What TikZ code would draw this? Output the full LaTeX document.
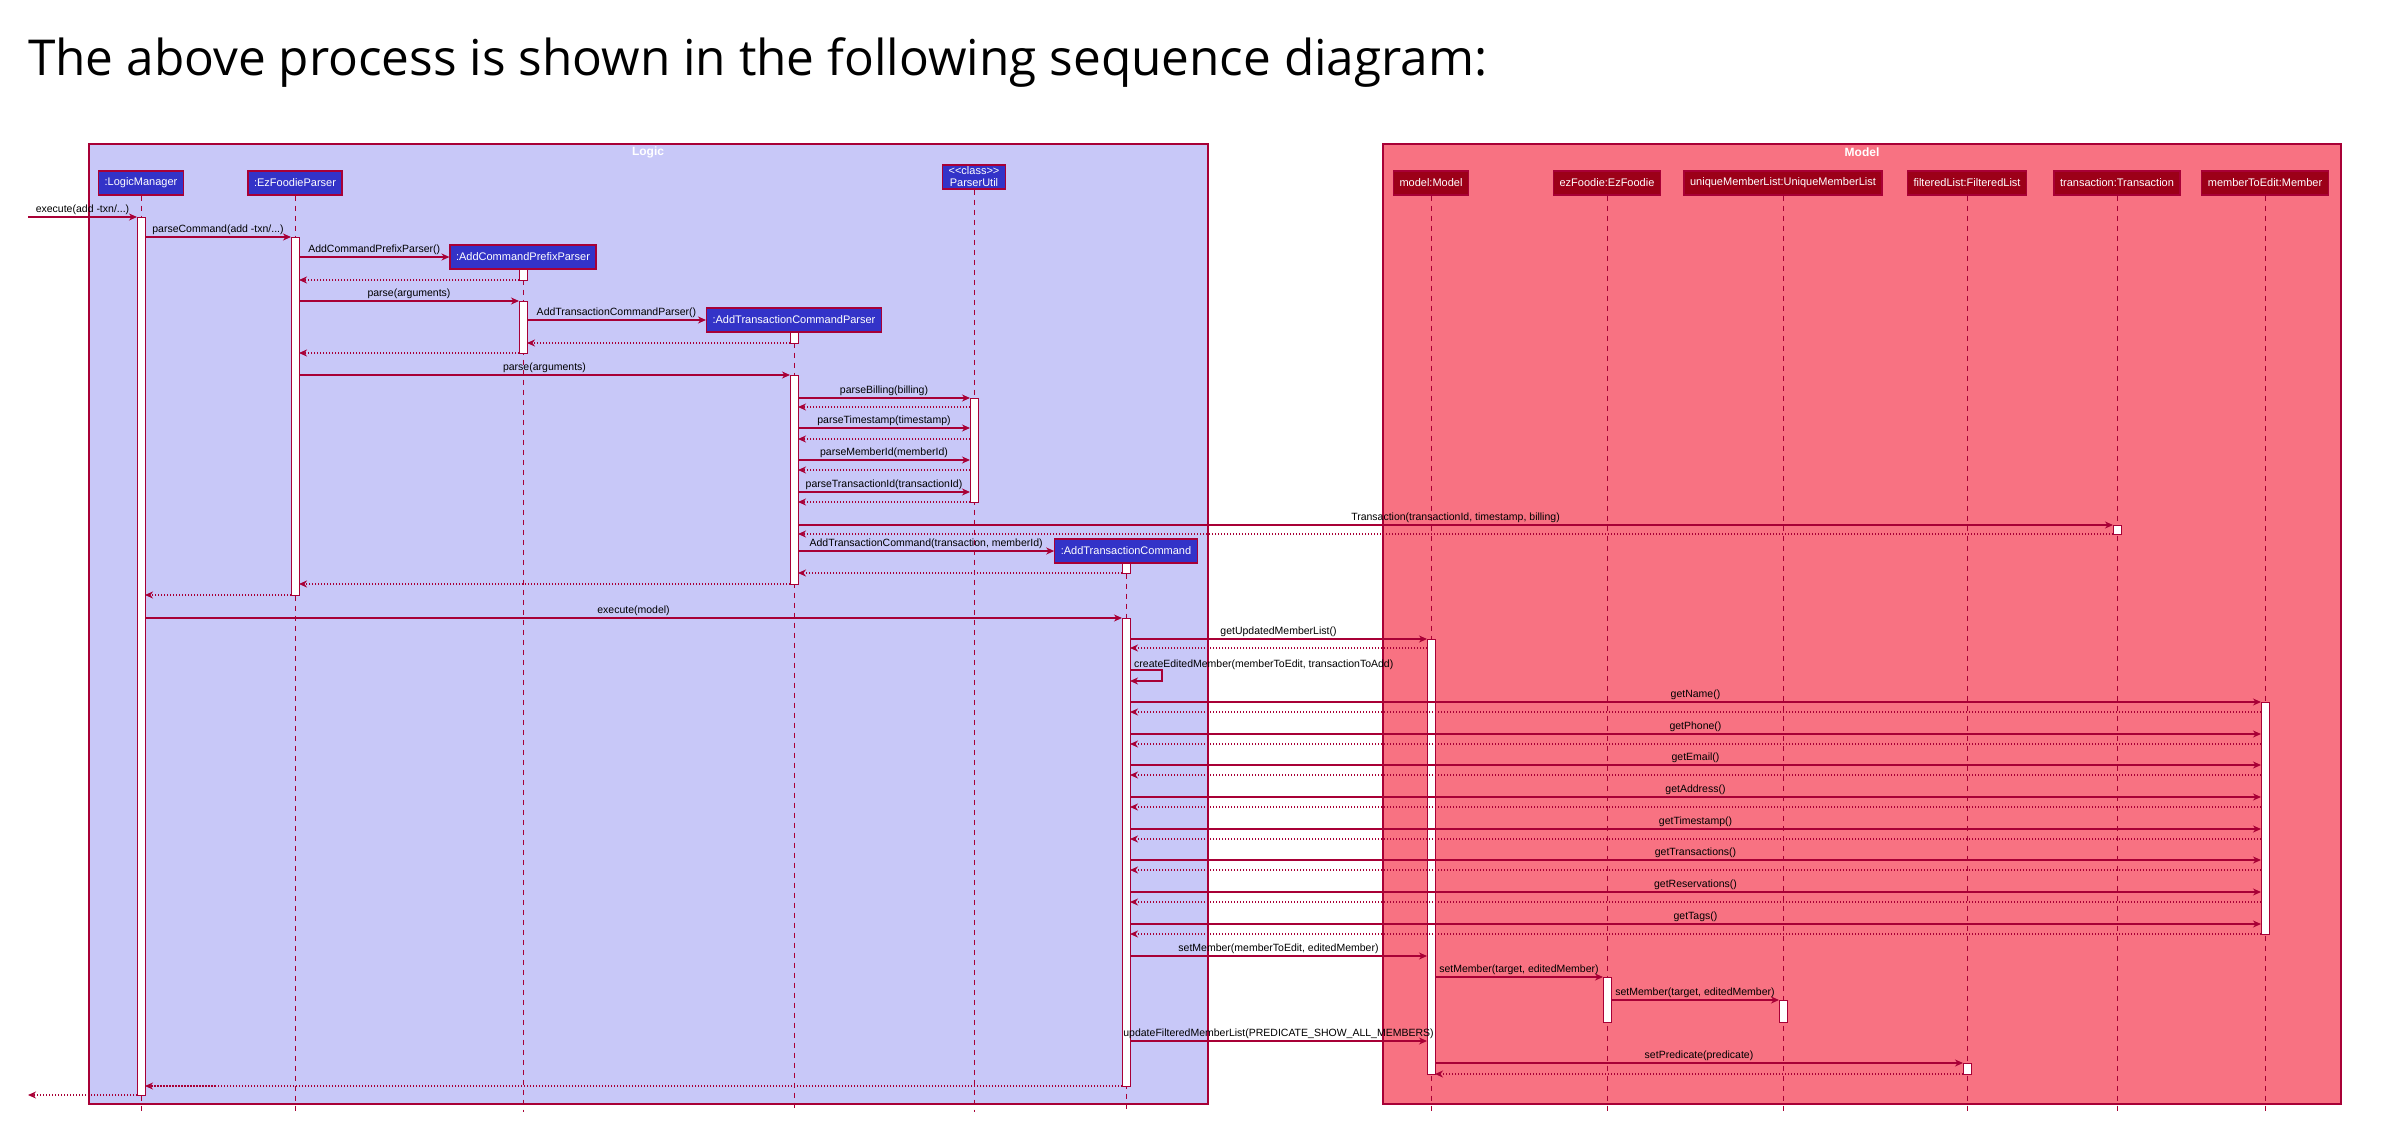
\documentclass[tikz,border=0pt]{standalone}
\usepackage{fontspec}
\setmainfont{Liberation Sans}
\newfontfamily\titlefont{Open Sans}
\usepackage{tikz}
\usetikzlibrary{arrows.meta,positioning}
\definecolor{SeqRed}{HTML}{A80036}
\definecolor{LogicFill}{HTML}{C8C8F8}
\definecolor{ModelFill}{HTML}{F87282}
\definecolor{LogicHead}{HTML}{3333C8}
\definecolor{ModelHead}{HTML}{9C0018}

\begin{document}
\begin{tikzpicture}[
  x=1pt,y=-1pt,
  grpframe/.style={draw=SeqRed,line width=1.5pt},
  grptitle/.style={text=white,font=\fontsize{12}{14}\selectfont\bfseries,inner sep=0pt},
  lhead/.style={draw=SeqRed,line width=1.2pt,fill=LogicHead,text=white,
                font=\fontsize{11}{12}\selectfont,inner xsep=6pt,inner ysep=0pt,minimum height=24},
  mhead/.style={lhead,fill=ModelHead},
  life/.style={SeqRed,line width=1pt,dash pattern=on 5pt off 5pt},
  act/.style={draw=SeqRed,fill=white,line width=1pt,minimum width=8,inner sep=0pt,outer sep=0pt},
  msg/.style={-{Stealth[length=8pt,width=7pt,inset=2.5pt]},SeqRed,line width=1.2pt},
  ret/.style={msg,dash pattern=on 1.5pt off 1.5pt},
  lbl/.style={text=black,font=\fontsize{10.5}{12}\selectfont,above,inner sep=2pt},
]
\useasboundingbox (0,0) rectangle (2398,1148);

\node[anchor=base west,font=\titlefont\fontsize{49.5}{58}\selectfont,inner sep=0pt] (title) at (28,76)
  {The above process is shown in the following sequence diagram:};

% boxes
\draw[grpframe,fill=LogicFill] (89,144) rectangle (1208,1104);
\draw[grpframe,fill=ModelFill] (1383,144) rectangle (2341,1104);
\node[grptitle] (logicT) at (648,152) {Logic};
\node[grptitle] (modelT) at (1862,152) {Model};

% participants
\node[lhead] (lm) at (141,183) {:LogicManager};
\node[lhead] (ezp) at (295,183) {:EzFoodieParser};
\node[lhead,align=center,inner ysep=2pt] (pu) at (974,177) {<\kern0pt<class>\kern0pt>\\ParserUtil};
\node[mhead] (mdl) at (1431,183) {model:Model};
\node[mhead] (ezf) at (1607,183) {ezFoodie:EzFoodie};
\node[mhead] (uml) at (1783,183) {uniqueMemberList:UniqueMemberList};
\node[mhead] (fl) at (1967,183) {filteredList:FilteredList};
\node[mhead] (txn) at (2117,183) {transaction:Transaction};
\node[mhead] (mte) at (2265,183) {memberToEdit:Member};
\node[lhead] (acpp) at (523,257) {:AddCommandPrefixParser};
\node[lhead] (atcp) at (794,320) {:AddTransactionCommandParser};
\node[lhead] (atc) at (1126,551) {:AddTransactionCommand};

% lifelines
\coordinate (lifeEnd) at (0,1112);
\draw[life] (lm.south) -- (lm.south |- lifeEnd);
\draw[life] (ezp.south) -- (ezp.south |- lifeEnd);
\draw[life] (pu.south) -- (pu.south |- lifeEnd);
\draw[life] (mdl.south) -- (mdl.south |- lifeEnd);
\draw[life] (ezf.south) -- (ezf.south |- lifeEnd);
\draw[life] (uml.south) -- (uml.south |- lifeEnd);
\draw[life] (fl.south) -- (fl.south |- lifeEnd);
\draw[life] (txn.south) -- (txn.south |- lifeEnd);
\draw[life] (mte.south) -- (mte.south |- lifeEnd);
\draw[life] (acpp.south) -- (acpp.south |- lifeEnd);
\draw[life] (atcp.south) -- (atcp.south |- lifeEnd);
\draw[life] (atc.south) -- (atc.south |- lifeEnd);

% activations
\node[act,minimum height=878] (aLM) at (141,656) {};
\node[act,minimum height=358] (aEZ) at (295,416) {};
\node[act,minimum height=11] (aACP1) at (523,274.5) {};
\node[act,minimum height=52] (aACP2) at (523,327) {};
\node[act,minimum height=11] (aATP1) at (794,337.5) {};
\node[act,minimum height=209] (aATP2) at (794,479.5) {};
\node[act,minimum height=104] (aPU) at (974,450) {};
\node[act,minimum height=9] (aTX) at (2117,529.5) {};
\node[act,minimum height=10] (aATC1) at (1126,568) {};
\node[act,minimum height=468] (aATC2) at (1126,852) {};
\node[act,minimum height=435] (aMD) at (1431,856.5) {};
\node[act,minimum height=232] (aME) at (2265,818) {};
\node[act,minimum height=45] (aEF) at (1607,999.5) {};
\node[act,minimum height=22] (aUM) at (1783,1011) {};
\node[act,minimum height=11] (aFL) at (1967,1068.5) {};

% parsing
\coordinate (ext) at (28,217);
\draw[msg] (ext) -- (aLM.north west) node[lbl,midway] (m1) {execute(add -txn/...)};
\draw[msg] (aLM.east |- aEZ.north) -- (aEZ.north west) node[lbl,midway] (m2) {parseCommand(add -txn/...)};
\draw[msg] (aEZ.east |- acpp.west) -- (acpp.west) node[lbl,midway] (m3) {AddCommandPrefixParser()};
\draw[ret] (aACP1.south west) -- (aEZ.east |- aACP1.south);
\draw[msg] (aEZ.east |- aACP2.north) -- (aACP2.north west) node[lbl,midway] (m5) {parse(arguments)};
\draw[msg] (aACP2.east |- atcp.west) -- (atcp.west) node[lbl,midway] (m6) {AddTransactionCommandParser()};
\draw[ret] (aATP1.south west) -- (aACP2.east |- aATP1.south);
\draw[ret] (aACP2.south west) -- (aEZ.east |- aACP2.south);
\draw[msg] (aEZ.east |- aATP2.north) -- (aATP2.north west) node[lbl,midway] (m9) {parse(arguments)};
\draw[msg] (aATP2.east |- aPU.north) -- (aPU.north west) node[lbl,midway] (m10) {parseBilling(billing)};
\draw[ret] (aPU.west |- 0,407) -- (aATP2.east |- 0,407);
\draw[msg] (aATP2.east |- 0,428) -- (aPU.west |- 0,428) node[lbl,midway] (m12) {parseTimestamp(timestamp)};
\draw[ret] (aPU.west |- 0,439) -- (aATP2.east |- 0,439);
\draw[msg] (aATP2.east |- 0,460) -- (aPU.west |- 0,460) node[lbl,midway] (m13) {parseMemberId(memberId)};
\draw[ret] (aPU.west |- 0,470) -- (aATP2.east |- 0,470);
\draw[msg] (aATP2.east |- 0,492) -- (aPU.west |- 0,492) node[lbl,midway] (m14) {parseTransactionId(transactionId)};
\draw[ret] (aPU.south west) -- (aATP2.east |- aPU.south);
\draw[msg] (aATP2.east |- aTX.north) -- (aTX.north west) node[lbl,midway] (m15) {Transaction(transactionId, timestamp, billing)};
\draw[ret] (aTX.south west) -- (aATP2.east |- aTX.south);
\draw[msg] (aATP2.east |- atc.west) -- (atc.west) node[lbl,midway] (m16) {AddTransactionCommand(transaction, memberId)};
\draw[ret] (aATC1.south west) -- (aATP2.east |- aATC1.south);
\draw[ret] (aATP2.south west) -- (aEZ.east |- aATP2.south);
\draw[ret] (aEZ.south west) -- (aLM.east |- aEZ.south);

% execution
\draw[msg] (aLM.east |- aATC2.north) -- (aATC2.north west) node[lbl,midway] (m20) {execute(model)};
\draw[msg] (aATC2.east |- aMD.north) -- (aMD.north west) node[lbl,midway] (m21) {getUpdatedMemberList()};
\draw[ret] (aMD.west |- 0,648) -- (aATC2.east |- 0,648);
\draw[msg] (aATC2.east |- 0,670) -- ++(32,0) -- ++(0,11) -- (aATC2.east |- 0,681);
\node[lbl,anchor=base west] (m22) at ([xshift=2pt]aATC2.east |- 0,667) {createEditedMember(memberToEdit, transactionToAdd)};
\draw[msg] (aATC2.east |- aME.north) -- (aME.north west) node[lbl,midway] (m23) {getName()};
\draw[ret] (aME.west |- 0,712) -- (aATC2.east |- 0,712);
\draw[msg] (aATC2.east |- 0,734) -- (aME.west |- 0,734) node[lbl,midway] (m24) {getPhone()};
\draw[ret] (aME.west |- 0,744) -- (aATC2.east |- 0,744);
\draw[msg] (aATC2.east |- 0,765) -- (aME.west |- 0,765) node[lbl,midway] (m25) {getEmail()};
\draw[ret] (aME.west |- 0,775) -- (aATC2.east |- 0,775);
\draw[msg] (aATC2.east |- 0,797) -- (aME.west |- 0,797) node[lbl,midway] (m26) {getAddress()};
\draw[ret] (aME.west |- 0,807) -- (aATC2.east |- 0,807);
\draw[msg] (aATC2.east |- 0,829) -- (aME.west |- 0,829) node[lbl,midway] (m27) {getTimestamp()};
\draw[ret] (aME.west |- 0,839) -- (aATC2.east |- 0,839);
\draw[msg] (aATC2.east |- 0,860) -- (aME.west |- 0,860) node[lbl,midway] (m28) {getTransactions()};
\draw[ret] (aME.west |- 0,870) -- (aATC2.east |- 0,870);
\draw[msg] (aATC2.east |- 0,892) -- (aME.west |- 0,892) node[lbl,midway] (m29) {getReservations()};
\draw[ret] (aME.west |- 0,902) -- (aATC2.east |- 0,902);
\draw[msg] (aATC2.east |- 0,924) -- (aME.west |- 0,924) node[lbl,midway] (m30) {getTags()};
\draw[ret] (aME.south west) -- (aATC2.east |- aME.south);
\draw[msg] (aATC2.east |- 0,956) -- (aMD.west |- 0,956) node[lbl,midway] (m31) {setMember(memberToEdit, editedMember)};
\draw[msg] (aMD.east |- aEF.north) -- (aEF.north west) node[lbl,midway] (m32) {setMember(target, editedMember)};
\draw[msg] (aEF.east |- aUM.north) -- (aUM.north west) node[lbl,midway] (m33) {setMember(target, editedMember)};
\draw[msg] (aATC2.east |- 0,1041) -- (aMD.west |- 0,1041) node[lbl,midway] (m34) {updateFilteredMemberList(PREDICATE\_SHOW\_ALL\_MEMBERS)};
\draw[msg] (aMD.east |- aFL.north) -- (aFL.north west) node[lbl,midway] (m35) {setPredicate(predicate)};
\draw[ret] (aFL.south west) -- (aMD.east |- aFL.south);
\draw[ret] (aATC2.south west) -- (aLM.east |- aATC2.south);
\draw[ret] (aLM.south west) -- (ext |- aLM.south);
\end{tikzpicture}
\end{document}
